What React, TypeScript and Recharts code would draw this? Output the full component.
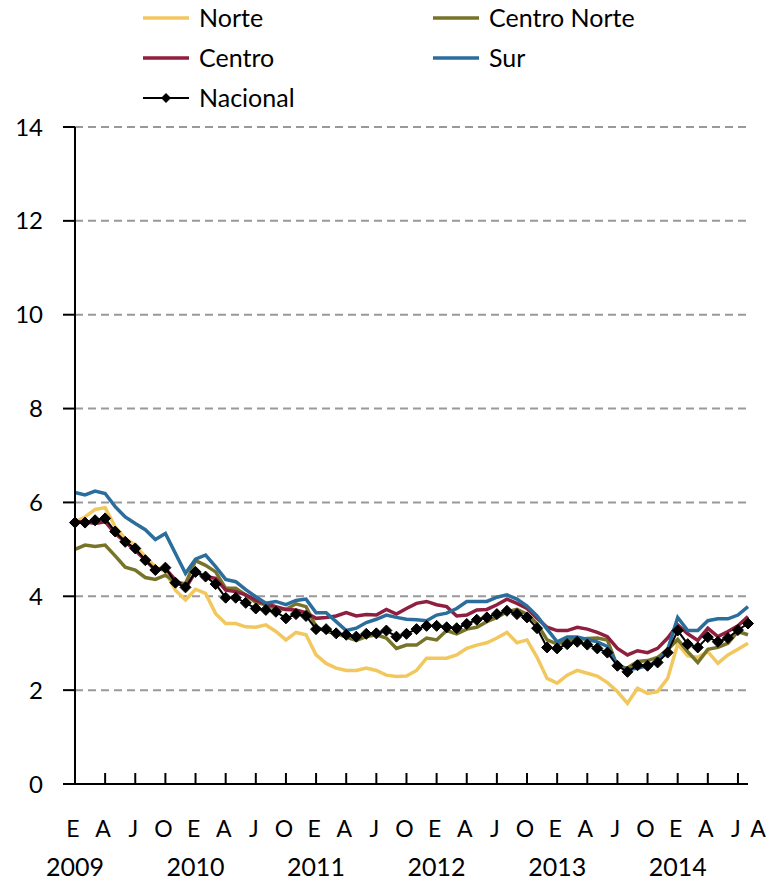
import React from "react";
import { LineChart, Line, XAxis, YAxis, CartesianGrid } from "recharts";

// Enero 2009 - Agosto 2014, mensual
const years = [2009, 2010, 2011, 2012, 2013, 2014];
const monthLetters = ["E", "F", "M", "A", "M", "J", "J", "A", "S", "O", "N", "D"];
const yTicks = [0, 2, 4, 6, 8, 10, 12, 14];

const norte = [
  5.59, 5.69, 5.85, 5.89, 5.48, 5.23, 5.09, 4.84, 4.63, 4.52,
  4.13, 3.92, 4.15, 4.06, 3.63, 3.42, 3.42, 3.35, 3.34, 3.39,
  3.25, 3.07, 3.23, 3.18, 2.75, 2.57, 2.47, 2.42, 2.42, 2.47,
  2.42, 2.32, 2.29, 2.30, 2.42, 2.68, 2.68, 2.68, 2.75, 2.89,
  2.96, 3.01, 3.11, 3.23, 3.01, 3.07, 2.70, 2.25, 2.15, 2.32,
  2.42, 2.36, 2.30, 2.16, 1.97, 1.72, 2.04, 1.93, 1.97, 2.25,
  2.98, 2.73, 2.70, 2.82, 2.57, 2.75, 2.87, 3.00,
];
const centroNorte = [
  5.0, 5.09, 5.06, 5.09, 4.86, 4.62, 4.56, 4.4, 4.36, 4.45,
  4.3, 4.27, 4.76, 4.66, 4.52, 4.17, 4.17, 4.03, 3.87, 3.82,
  3.74, 3.72, 3.84, 3.78, 3.35, 3.25, 3.21, 3.13, 3.06, 3.14,
  3.18, 3.11, 2.89, 2.96, 2.96, 3.11, 3.07, 3.27, 3.2, 3.3,
  3.34, 3.46, 3.55, 3.67, 3.72, 3.62, 3.42, 3.07, 2.98, 3.07,
  3.08, 3.1, 3.11, 3.07, 2.5, 2.47, 2.61, 2.63, 2.7, 2.86,
  3.08, 2.82, 2.59, 2.87, 2.91, 3.0, 3.25, 3.18,
];
const centro = [
  5.59, 5.59, 5.55, 5.59, 5.34, 5.16, 4.98, 4.77, 4.56, 4.59,
  4.35, 4.17, 4.52, 4.42, 4.38, 4.13, 4.1, 4.03, 3.92, 3.84,
  3.78, 3.72, 3.71, 3.65, 3.53, 3.55, 3.58, 3.65, 3.58, 3.61,
  3.6, 3.72, 3.62, 3.74, 3.85, 3.89, 3.82, 3.78, 3.58, 3.6,
  3.71, 3.72, 3.82, 3.94, 3.85, 3.74, 3.53, 3.34, 3.27, 3.27,
  3.34, 3.3, 3.23, 3.14, 2.89, 2.75, 2.84, 2.8, 2.89, 3.11,
  3.39, 3.2, 3.06, 3.32, 3.14, 3.25, 3.37, 3.57,
];
const sur = [
  6.21, 6.16, 6.24, 6.19, 5.91, 5.69, 5.55, 5.42, 5.21, 5.34,
  4.91, 4.49, 4.79, 4.88, 4.63, 4.36, 4.31, 4.14, 3.99, 3.85,
  3.89, 3.82, 3.91, 3.94, 3.65, 3.65, 3.46, 3.27, 3.32, 3.44,
  3.51, 3.6, 3.55, 3.51, 3.5, 3.48, 3.6, 3.64, 3.74, 3.89,
  3.89, 3.89, 3.98, 4.03, 3.94, 3.79, 3.58, 3.3, 3.03, 3.13,
  3.13, 3.08, 3.03, 2.93, 2.54, 2.43, 2.47, 2.52, 2.61, 2.86,
  3.55, 3.27, 3.27, 3.48, 3.52, 3.52, 3.6, 3.78,
];
const nacional = [
  5.57, 5.57, 5.62, 5.66, 5.38, 5.16, 5.02, 4.77, 4.56, 4.61,
  4.29, 4.19, 4.52, 4.42, 4.26, 3.97, 3.97, 3.86, 3.74, 3.71,
  3.67, 3.53, 3.62, 3.58, 3.3, 3.3, 3.21, 3.18, 3.14, 3.2,
  3.21, 3.27, 3.14, 3.2, 3.3, 3.37, 3.37, 3.34, 3.32, 3.41,
  3.5, 3.55, 3.62, 3.69, 3.62, 3.55, 3.32, 2.91, 2.89, 2.98,
  3.03, 2.97, 2.89, 2.8, 2.52, 2.39, 2.53, 2.52, 2.59, 2.8,
  3.27, 2.98, 2.91, 3.13, 3.03, 3.11, 3.28, 3.42,
];

const periodos: string[] = [];
years.forEach((y) => monthLetters.forEach((_, m) => periodos.push(`${y}-${m + 1}`)));
periodos.length = nacional.length;

const data = periodos.map((p, i) => ({
  periodo: p,
  norte: norte[i],
  centroNorte: centroNorte[i],
  centro: centro[i],
  sur: sur[i],
  nacional: nacional[i],
}));

const series = [
  { key: "norte", name: "Norte", color: "#F2C85E", width: 3.5 },
  { key: "centroNorte", name: "Centro Norte", color: "#77742A", width: 3.5 },
  { key: "centro", name: "Centro", color: "#8E1F3E", width: 3.5 },
  { key: "sur", name: "Sur", color: "#2B6E9C", width: 3.5 },
];

const FONT = "Lato, 'Liberation Sans', sans-serif";

const MonthTick = (props: any) => {
  const { x, y, payload } = props;
  const i = periodos.indexOf(payload.value);
  const m = i % 12;
  const last = i === periodos.length - 1;
  if (m % 3 !== 0 && !last) return <g />;
  return (
    <g>
      {m % 3 === 0 && <line x1={x} x2={x} y1={y} y2={y - 11} stroke="#000" strokeWidth={2} />}
      <text x={x + (last ? 10 : -2)} y={y + 53} textAnchor="middle" fontSize={23} fontFamily={FONT} fill="#000">
        {monthLetters[m]}
      </text>
      {m === 0 && (
        <text x={x} y={y + 92} textAnchor="middle" fontSize={25} fontFamily={FONT} fill="#000">
          {years[Math.floor(i / 12)]}
        </text>
      )}
    </g>
  );
};

const Diamond = (props: any) => {
  const { cx, cy, index } = props;
  const r = 5.5;
  return (
    <polygon
      key={`d-${index}`}
      points={`${cx},${cy - r} ${cx + r},${cy} ${cx},${cy + r} ${cx - r},${cy}`}
      fill="#000"
      stroke="#000"
    />
  );
};

const LegendBox = () => {
  const rows = [
    { s: series[0], x: 143, y: 18 },
    { s: series[1], x: 433, y: 18 },
    { s: series[2], x: 143, y: 58 },
    { s: series[3], x: 433, y: 58 },
  ];
  return (
    <svg width={771} height={120} style={{ position: "absolute", left: 0, top: 0 }}>
      {rows.map(({ s, x, y }) => (
        <g key={s.key}>
          <line x1={x} x2={x + 46} y1={y} y2={y} stroke={s.color} strokeWidth={3.5} />
          <text x={x + 56} y={y + 9} fontSize={25} fontFamily={FONT} fill="#000">
            {s.name}
          </text>
        </g>
      ))}
      <g>
        <line x1={143} x2={189} y1={98} y2={98} stroke="#000" strokeWidth={2} />
        <polygon points="166,93 171,98 166,103 161,98" fill="#000" />
        <text x={199} y={107} fontSize={25} fontFamily={FONT} fill="#000">
          Nacional
        </text>
      </g>
    </svg>
  );
};

export default function App() {
  return (
    <div style={{ position: "absolute", left: 0, top: 0, width: 771, height: 881, background: "#fff" }}>
      <LineChart width={771} height={881} data={data} margin={{ top: 127, right: 23, bottom: 7, left: 0 }}>
        <CartesianGrid vertical={false} stroke="#999" strokeWidth={2} strokeDasharray="8 5" />
        <XAxis
          dataKey="periodo"
          type="category"
          interval={0}
          height={90}
          tickSize={0}
          tickMargin={0}
          tickLine={false}
          tick={<MonthTick />}
          axisLine={{ stroke: "#000", strokeWidth: 2 }}
        />
        <YAxis
          domain={[0, 14]}
          ticks={yTicks}
          width={75}
          tickSize={12}
          tickMargin={20}
          axisLine={{ stroke: "#000", strokeWidth: 2 }}
          tickLine={{ stroke: "#000", strokeWidth: 2 }}
          tick={{ fill: "#000", fontSize: 24, fontFamily: FONT }}
        />
        {series.map((s) => (
          <Line
            key={s.key}
            type="linear"
            dataKey={s.key}
            name={s.name}
            stroke={s.color}
            strokeWidth={s.width}
            dot={false}
            activeDot={false}
            isAnimationActive={false}
          />
        ))}
        <Line
          type="linear"
          dataKey="nacional"
          name="Nacional"
          stroke="#000"
          strokeWidth={2}
          dot={<Diamond />}
          activeDot={false}
          isAnimationActive={false}
        />
      </LineChart>
      <LegendBox />
    </div>
  );
}
